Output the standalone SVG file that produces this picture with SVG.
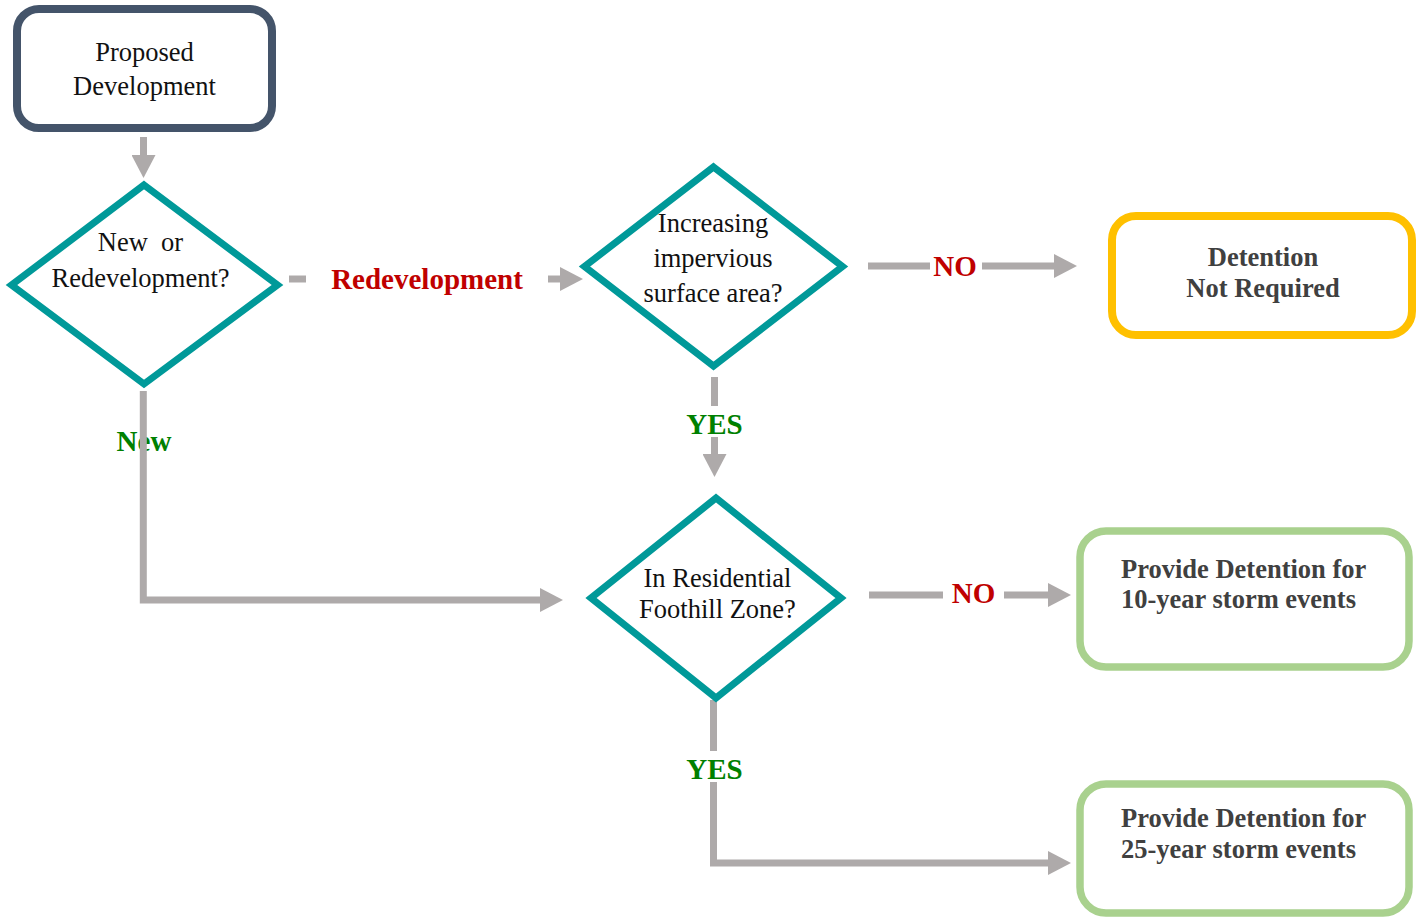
<svg xmlns="http://www.w3.org/2000/svg" width="1421" height="919" viewBox="0 0 1421 919">
<defs>
<style>
.conn{fill:none;stroke:#AEAAAA;stroke-width:7;stroke-linejoin:miter}
.dia{fill:#fff;stroke:#009999;stroke-width:7;stroke-linejoin:miter;stroke-miterlimit:10}
.qt{font-family:"Liberation Serif","Times New Roman",serif;font-size:26.5px;fill:#111;text-anchor:middle}
.bt{font-family:"Liberation Serif","Times New Roman",serif;font-size:26.5px;font-weight:bold;fill:#404040}
.no{font-family:"Liberation Serif","Times New Roman",serif;font-size:29px;font-weight:bold;fill:#C00000;text-anchor:middle}
.yes{font-family:"Liberation Serif","Times New Roman",serif;font-size:29px;font-weight:bold;fill:#008000;text-anchor:middle}
</style>
<marker id="ah" markerUnits="userSpaceOnUse" markerWidth="24" markerHeight="24" refX="0" refY="12" orient="auto" viewBox="0 0 24 24">
<path d="M0,0 L23,12 L0,24 Z" fill="#AEAAAA"/>
</marker>
</defs>
<rect width="1421" height="919" fill="#fff"/>

<g id="connectors">
<path class="conn" d="M143.5,137 V155" marker-end="url(#ah)"/>
<path class="conn" d="M289,279 H306"/>
<text class="no" x="427" y="289">Redevelopment</text>
<path class="conn" d="M548,279 H560" marker-end="url(#ah)"/>
<path class="conn" d="M868,266 H930"/>
<text class="no" x="955" y="276">NO</text>
<path class="conn" d="M982,266 H1054" marker-end="url(#ah)"/>
<path class="conn" d="M714.5,377 V406"/>
<text class="yes" x="714.5" y="434">YES</text>
<path class="conn" d="M714.5,437 V454" marker-end="url(#ah)"/>
<text class="yes" x="144" y="451">New</text>
<path class="conn" d="M143.3,391 V600 H540" marker-end="url(#ah)"/>
<path class="conn" d="M869,595 H943"/>
<text class="no" x="973.5" y="603">NO</text>
<path class="conn" d="M1004,595 H1048" marker-end="url(#ah)"/>
<path class="conn" d="M713.5,700 V751"/>
<text class="yes" x="714.5" y="779">YES</text>
<path class="conn" d="M713.5,782 V863 H1048" marker-end="url(#ah)"/>
</g>

<g id="proposed">
<rect x="17" y="9" width="255" height="119" rx="22" fill="#fff" stroke="#44546A" stroke-width="8"/>
<text class="qt" x="144.5" y="61" fill="#222">Proposed</text>
<text class="qt" x="144.5" y="95" fill="#222">Development</text>
</g>

<g id="new-or-redev">
<path class="dia" d="M144,185 L277.5,285 L144,384 L11.5,285 Z"/>
<text class="qt" x="140.5" y="251" xml:space="preserve">New  or</text>
<text class="qt" x="140.5" y="287">Redevelopment?</text>
</g>

<g id="impervious">
<path class="dia" d="M713.5,167 L842.5,266.5 L713.5,366 L584.5,266.5 Z"/>
<text class="qt" x="713" y="232">Increasing</text>
<text class="qt" x="713" y="267">impervious</text>
<text class="qt" x="713" y="302">surface area?</text>
</g>

<g id="foothill">
<path class="dia" d="M716,498 L841,598 L716,698 L591,598 Z"/>
<text class="qt" x="717.5" y="587">In Residential</text>
<text class="qt" x="717.5" y="618">Foothill Zone?</text>
</g>

<g id="not-required">
<rect x="1112" y="216" width="300" height="119" rx="24" fill="#fff" stroke="#FFC000" stroke-width="8"/>
<text class="bt" x="1263" y="266" text-anchor="middle">Detention</text>
<text class="bt" x="1263" y="297" text-anchor="middle">Not Required</text>
</g>

<g id="ten-year">
<rect x="1080" y="531" width="329" height="136" rx="26" fill="#fff" stroke="#A9D18E" stroke-width="7.5"/>
<text class="bt" x="1121" y="578">Provide Detention for</text>
<text class="bt" x="1121" y="608">10-year storm events</text>
</g>

<g id="twentyfive-year">
<rect x="1080" y="784" width="329" height="129" rx="26" fill="#fff" stroke="#A9D18E" stroke-width="7.5"/>
<text class="bt" x="1121" y="827">Provide Detention for</text>
<text class="bt" x="1121" y="858">25-year storm events</text>
</g>
</svg>
